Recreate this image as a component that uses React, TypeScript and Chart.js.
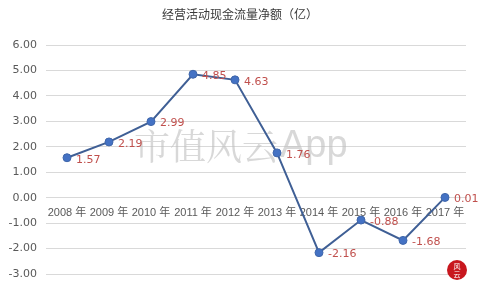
import React, { useEffect, useRef } from "react";
import { Chart, registerables } from "chart.js";

Chart.register(...registerables);

const TITLE = "经营活动现金流量净额（亿）";
const categories = ["2008 年", "2009 年", "2010 年", "2011 年", "2012 年", "2013 年", "2014 年", "2015 年", "2016 年", "2017 年"];
const values = [1.57, 2.19, 2.99, 4.85, 4.63, 1.76, -2.16, -0.88, -1.68, 0.01];
const yMin = -3;
const yMax = 6;
const yStep = 1;
const WATERMARK_CN = "市值风云";
const WATERMARK_EN = "App";
const LOGO_TEXT = ["风", "云"];

const decorPlugin = {
  id: "decor",
  beforeDatasetsDraw(chart: any) {
    const ctx = chart.ctx;
    ctx.save();
    ctx.fillStyle = "rgba(190,190,190,0.6)";
    ctx.textBaseline = "middle";
    ctx.textAlign = "left";
    ctx.font = "36px 'Noto Serif CJK SC', 'Noto Sans CJK SC', serif";
    ctx.fillText(WATERMARK_CN, 134, 146);
    const w = ctx.measureText(WATERMARK_CN).width;
    ctx.font = "38px 'Liberation Sans', Arial, sans-serif";
    ctx.fillText(WATERMARK_EN, 134 + w + 2, 147);
    ctx.restore();
  },
  afterDraw(chart: any) {
    const ctx = chart.ctx;
    ctx.save();
    ctx.fillStyle = "#3a3a3a";
    ctx.font = "12px 'Noto Sans CJK SC', sans-serif";
    ctx.textAlign = "center";
    ctx.textBaseline = "middle";
    ctx.fillText(TITLE, 240, 14);
    const meta = chart.getDatasetMeta(0);
    ctx.font = "11px 'DejaVu Sans', sans-serif";
    ctx.fillStyle = "#c0504d";
    ctx.textAlign = "left";
    meta.data.forEach((pt: any, i: number) => {
      ctx.fillText(values[i].toFixed(2), pt.x + 9, pt.y + 2);
    });
    ctx.beginPath();
    ctx.fillStyle = "#c8171e";
    ctx.arc(457, 270, 10, 0, Math.PI * 2);
    ctx.fill();
    ctx.fillStyle = "#ffffff";
    ctx.font = "7px 'Noto Sans CJK SC', sans-serif";
    ctx.textAlign = "center";
    ctx.fillText(LOGO_TEXT[0], 457, 266);
    ctx.fillText(LOGO_TEXT[1], 457, 274);
    ctx.restore();
  },
};

export default function App() {
  const ref = useRef<HTMLCanvasElement | null>(null);
  useEffect(() => {
    if (!ref.current) return;
    const chart = new Chart(ref.current, {
      type: "line",
      data: {
        labels: categories,
        datasets: [
          {
            data: values,
            borderColor: "#3f5f95",
            borderWidth: 2,
            pointBackgroundColor: "#4472c4",
            pointBorderColor: "#3f66aa",
            pointRadius: 4,
            pointBorderWidth: 1,
            tension: 0,
          },
        ],
      },
      options: {
        animation: false,
        responsive: false,
        maintainAspectRatio: false,
        layout: { padding: { top: 45, right: 14, bottom: 13, left: 0 } },
        plugins: {
          legend: { display: false },
          title: { display: false },
          tooltip: { enabled: false },
        },
        scales: {
          x: {
            position: { y: 0 } as any,
            offset: true,
            grid: { display: false, drawTicks: false, offset: true },
            border: { display: true, color: "#d9d9d9", width: 1 },
            ticks: {
              color: "#595959",
              font: { size: 11, family: "'Liberation Sans', 'Noto Sans CJK SC', sans-serif" },
              maxRotation: 0,
              autoSkip: false,
              padding: 9,
            },
            afterFit: (s: any) => {
              s.height = 0;
              s.paddingTop = 0;
              s.paddingBottom = 0;
            },
          },
          y: {
            min: yMin,
            max: yMax,
            grid: { color: "#d9d9d9", drawTicks: false },
            border: { display: false },
            ticks: {
              stepSize: yStep,
              color: "#595959",
              font: { size: 11, family: "'DejaVu Sans', sans-serif" },
              padding: 9,
              callback: (v: any) => Number(v).toFixed(2),
            },
            afterFit: (s: any) => {
              s.width = 46;
              s.paddingTop = 0;
              s.paddingBottom = 0;
            },
          },
        },
      },
      plugins: [decorPlugin],
    });
    return () => chart.destroy();
  }, []);
  return (
    <div style={{ position: "fixed", left: 0, top: 0, width: 480, height: 287, background: "#fff" }}>
      <canvas ref={ref} width={480} height={287} style={{ display: "block" }} />
    </div>
  );
}
